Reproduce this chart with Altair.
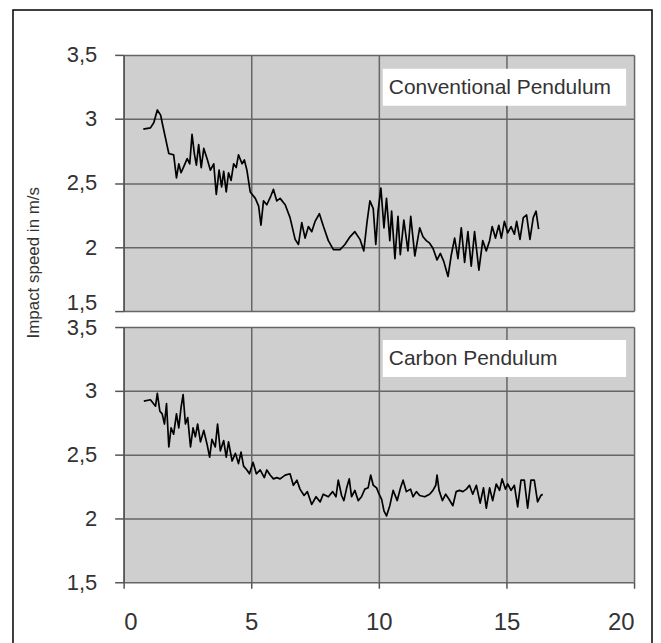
import altair as alt
import pandas as pd

# Conventional pendulum (top panel)
top_x = [0.77, 1.05, 1.18, 1.32, 1.45, 1.51, 1.64, 1.77, 1.96, 2.07,
         2.16, 2.25, 2.36, 2.49, 2.59, 2.68, 2.77, 2.85, 2.94, 3.04,
         3.14, 3.27, 3.40, 3.53, 3.63, 3.74, 3.84, 3.92, 4.02, 4.11,
         4.21, 4.31, 4.41, 4.50, 4.64, 4.73, 4.83, 4.96, 5.16, 5.29,
         5.38, 5.48, 5.61, 5.77, 5.87, 6.00, 6.13,
         6.33, 6.52, 6.72, 6.85, 6.98, 7.11, 7.24, 7.37, 7.50, 7.67,
         7.83, 8.02, 8.22, 8.48, 8.67, 8.87, 9.06, 9.26, 9.41, 9.54,
         9.65, 9.78, 9.88, 9.97, 10.08, 10.20, 10.30, 10.43, 10.50, 10.63,
         10.75, 10.84, 10.98, 11.14, 11.25, 11.41,
         11.60, 11.73, 11.86, 11.99, 12.12, 12.28, 12.41, 12.54, 12.71, 12.84,
         12.97, 13.10, 13.23, 13.36, 13.49, 13.62, 13.75, 13.92, 14.07, 14.21,
         14.34, 14.44, 14.57, 14.70, 14.80, 14.92, 15.05, 15.18, 15.31, 15.40,
         15.53, 15.66, 15.79, 15.92, 16.05, 16.16, 16.26]
top_y = [2.92, 2.93, 2.97, 3.07, 3.03, 2.97, 2.85, 2.73, 2.72, 2.54,
         2.65, 2.58, 2.63, 2.69, 2.65, 2.88, 2.73, 2.64, 2.80, 2.62,
         2.77, 2.69, 2.60, 2.65, 2.41, 2.60, 2.47, 2.59, 2.43, 2.58,
         2.52, 2.65, 2.62, 2.72, 2.65, 2.68, 2.60, 2.43, 2.38, 2.32,
         2.17, 2.36, 2.33, 2.40, 2.45, 2.36, 2.38,
         2.33, 2.23, 2.06, 2.02, 2.19, 2.07, 2.16, 2.12, 2.20, 2.26,
         2.16, 2.05, 1.98, 1.98, 2.02, 2.08, 2.12, 2.06, 1.97, 2.20,
         2.36, 2.30, 2.02, 2.28, 2.46, 2.15, 2.38, 2.05, 2.28, 1.91,
         2.24, 1.94, 2.21, 1.97, 2.24, 1.93,
         2.15, 2.08, 2.05, 2.03, 1.99, 1.90, 1.95, 1.89, 1.77, 1.94,
         2.07, 1.91, 2.15, 1.88, 2.12, 1.85, 2.12, 1.82, 2.05, 1.97,
         2.05, 2.16, 2.07, 2.17, 2.07, 2.20, 2.11, 2.16, 2.10, 2.20,
         2.06, 2.23, 2.25, 2.06, 2.23, 2.28, 2.14]

# Carbon pendulum (bottom panel)
bot_x = [0.79, 1.05, 1.25, 1.32, 1.42, 1.51, 1.60, 1.68, 1.77, 1.86,
         1.96, 2.07, 2.16, 2.25, 2.33, 2.42, 2.51, 2.62, 2.72, 2.81,
         2.90, 3.01, 3.14, 3.27, 3.37, 3.46, 3.59, 3.68, 3.79, 3.92,
         4.02, 4.11, 4.25, 4.38, 4.50, 4.60, 4.70, 4.83, 4.93, 5.07,
         5.20, 5.35, 5.51, 5.61, 5.74, 5.87, 6.00,
         6.13, 6.33, 6.52, 6.65, 6.79, 6.91, 7.07, 7.20, 7.37, 7.54,
         7.70, 7.82, 8.02, 8.19, 8.32, 8.41, 8.54, 8.63, 8.74, 8.84,
         8.93, 9.06, 9.19, 9.32, 9.45, 9.58, 9.68, 9.78, 9.91, 10.01,
         10.11, 10.20, 10.30, 10.43, 10.56, 10.72, 10.85, 10.95, 11.08, 11.24,
         11.34, 11.47,
         11.60, 11.80, 11.99, 12.12, 12.23, 12.28, 12.36, 12.49, 12.62, 12.75,
         12.90, 13.03, 13.16, 13.29, 13.43, 13.55, 13.68, 13.82, 13.97, 14.10,
         14.21, 14.34, 14.46, 14.60, 14.73, 14.83, 14.96, 15.05, 15.18, 15.31,
         15.44, 15.57, 15.70, 15.83, 15.96, 16.09, 16.22, 16.35, 16.42]
bot_y = [2.92, 2.93, 2.88, 2.98, 2.84, 2.82, 2.74, 2.90, 2.56, 2.71,
         2.66, 2.82, 2.71, 2.87, 2.97, 2.74, 2.79, 2.56, 2.71, 2.64,
         2.74, 2.60, 2.69, 2.58, 2.48, 2.62, 2.56, 2.74, 2.53, 2.61,
         2.48, 2.60, 2.45, 2.51, 2.43, 2.52, 2.41, 2.38, 2.35, 2.44,
         2.35, 2.38, 2.32, 2.38, 2.34, 2.31, 2.32,
         2.31, 2.34, 2.35, 2.26, 2.30, 2.23, 2.18, 2.21, 2.11, 2.17,
         2.13, 2.19, 2.17, 2.21, 2.17, 2.30, 2.18, 2.14, 2.24, 2.31,
         2.17, 2.22, 2.14, 2.17, 2.23, 2.24, 2.34, 2.26, 2.24, 2.19,
         2.15, 2.06, 2.02, 2.10, 2.22, 2.14, 2.24, 2.30, 2.21, 2.23,
         2.17, 2.21,
         2.18, 2.17, 2.19, 2.22, 2.26, 2.34, 2.22, 2.14, 2.19, 2.15,
         2.10, 2.21, 2.22, 2.21, 2.23, 2.26, 2.19, 2.26, 2.12, 2.24,
         2.08, 2.24, 2.14, 2.27, 2.22, 2.31, 2.23, 2.27, 2.22, 2.26,
         2.09, 2.30, 2.30, 2.08, 2.30, 2.30, 2.13, 2.18, 2.19]

x_ticks = [0, 5, 10, 15, 20]
y_ticks = [1.5, 2, 2.5, 3, 3.5]
panel_labels = ["Conventional Pendulum", "Carbon Pendulum"]
y_title = "Impact speed in m/s"

FONT = "Liberation Sans"
TXT = "#333333"
label_expr = "replace(toString(datum.value), '.', ',')"

xscale = alt.Scale(domain=[0, 20], nice=False, zero=False)
yscale = alt.Scale(domain=[1.5, 3.5], nice=False, zero=False)


def y_axis(with_title):
    if with_title:
        offset = {"condition": {"test": "datum.value == 1.5", "value": -9}, "value": 0}
    else:
        offset = {"condition": {"test": "datum.value == 3.5", "value": 0}, "value": 0}
    kw = dict(values=y_ticks, labelExpr=label_expr, tickSize=9, labelPadding=18,
              labelFontSize=22, labelFont=FONT, labelColor=TXT, grid=True,
              domain=True, labelOffset=offset)
    if with_title:
        kw.update(title=y_title, titleX=-90, titleY=208, titleAngle=270,
                  titleAlign="center", titleBaseline="middle", titleFontSize=17,
                  titleFontWeight="normal", titleFont=FONT, titleColor=TXT)
    else:
        kw.update(title=None)
    return alt.Axis(**kw)


def panel(xs, ys, label, top, h):
    df = pd.DataFrame({"t": xs, "v": ys})
    if top:
        xaxis = alt.Axis(values=x_ticks, grid=True, labels=False, ticks=False,
                         domain=False, title=None)
    else:
        xaxis = alt.Axis(values=x_ticks, grid=True, labels=True, ticks=True,
                         tickSize=6, labelPadding=22, labelFontSize=24,
                         labelFont=FONT, labelColor=TXT, domain=False, title=None)
    line = alt.Chart(df).mark_line(color="black", strokeWidth=1.7,
                                   strokeJoin="round").encode(
        x=alt.X("t:Q", scale=xscale, axis=xaxis),
        y=alt.Y("v:Q", scale=yscale, axis=y_axis(top)),
    )
    lab = pd.DataFrame({"label": [label]})
    box = alt.Chart(lab).mark_rect(color="white").encode(
        x=alt.value(260), x2=alt.value(504),
        y=alt.value(14 if top else 13), y2=alt.value(51 if top else 50))
    txt = alt.Chart(lab).mark_text(align="left", baseline="middle", fontSize=21,
                                   font=FONT, color=TXT).encode(
        x=alt.value(266), y=alt.value(33 if top else 32.5), text="label:N")
    layers = [line, box, txt]
    if top:
        frame = alt.Chart(lab).mark_rect(fillOpacity=0, stroke="black",
                                         strokeWidth=1.5).encode(
            x=alt.value(-111), x2=alt.value(530),
            y=alt.value(-45), y2=alt.value(620))
        layers.append(frame)
    return alt.layer(*layers).properties(width=512, height=h)


top_chart = panel(top_x, top_y, panel_labels[0], True, 257)
bot_chart = panel(bot_x, bot_y, panel_labels[1], False, 256)

chart = alt.vconcat(top_chart, bot_chart, spacing=16, bounds="flush").properties(
    padding={"left": 4, "top": 0, "right": 0, "bottom": 0}
).configure_view(
    fill="#cfcfcf", strokeWidth=0
).configure_axis(
    gridColor="#666666", gridWidth=1.5, domainColor="#555555", domainWidth=1.5,
    tickColor="#555555", tickWidth=1.5
)

chart.save("out.html", embed_options={"renderer": "svg", "actions": False})
